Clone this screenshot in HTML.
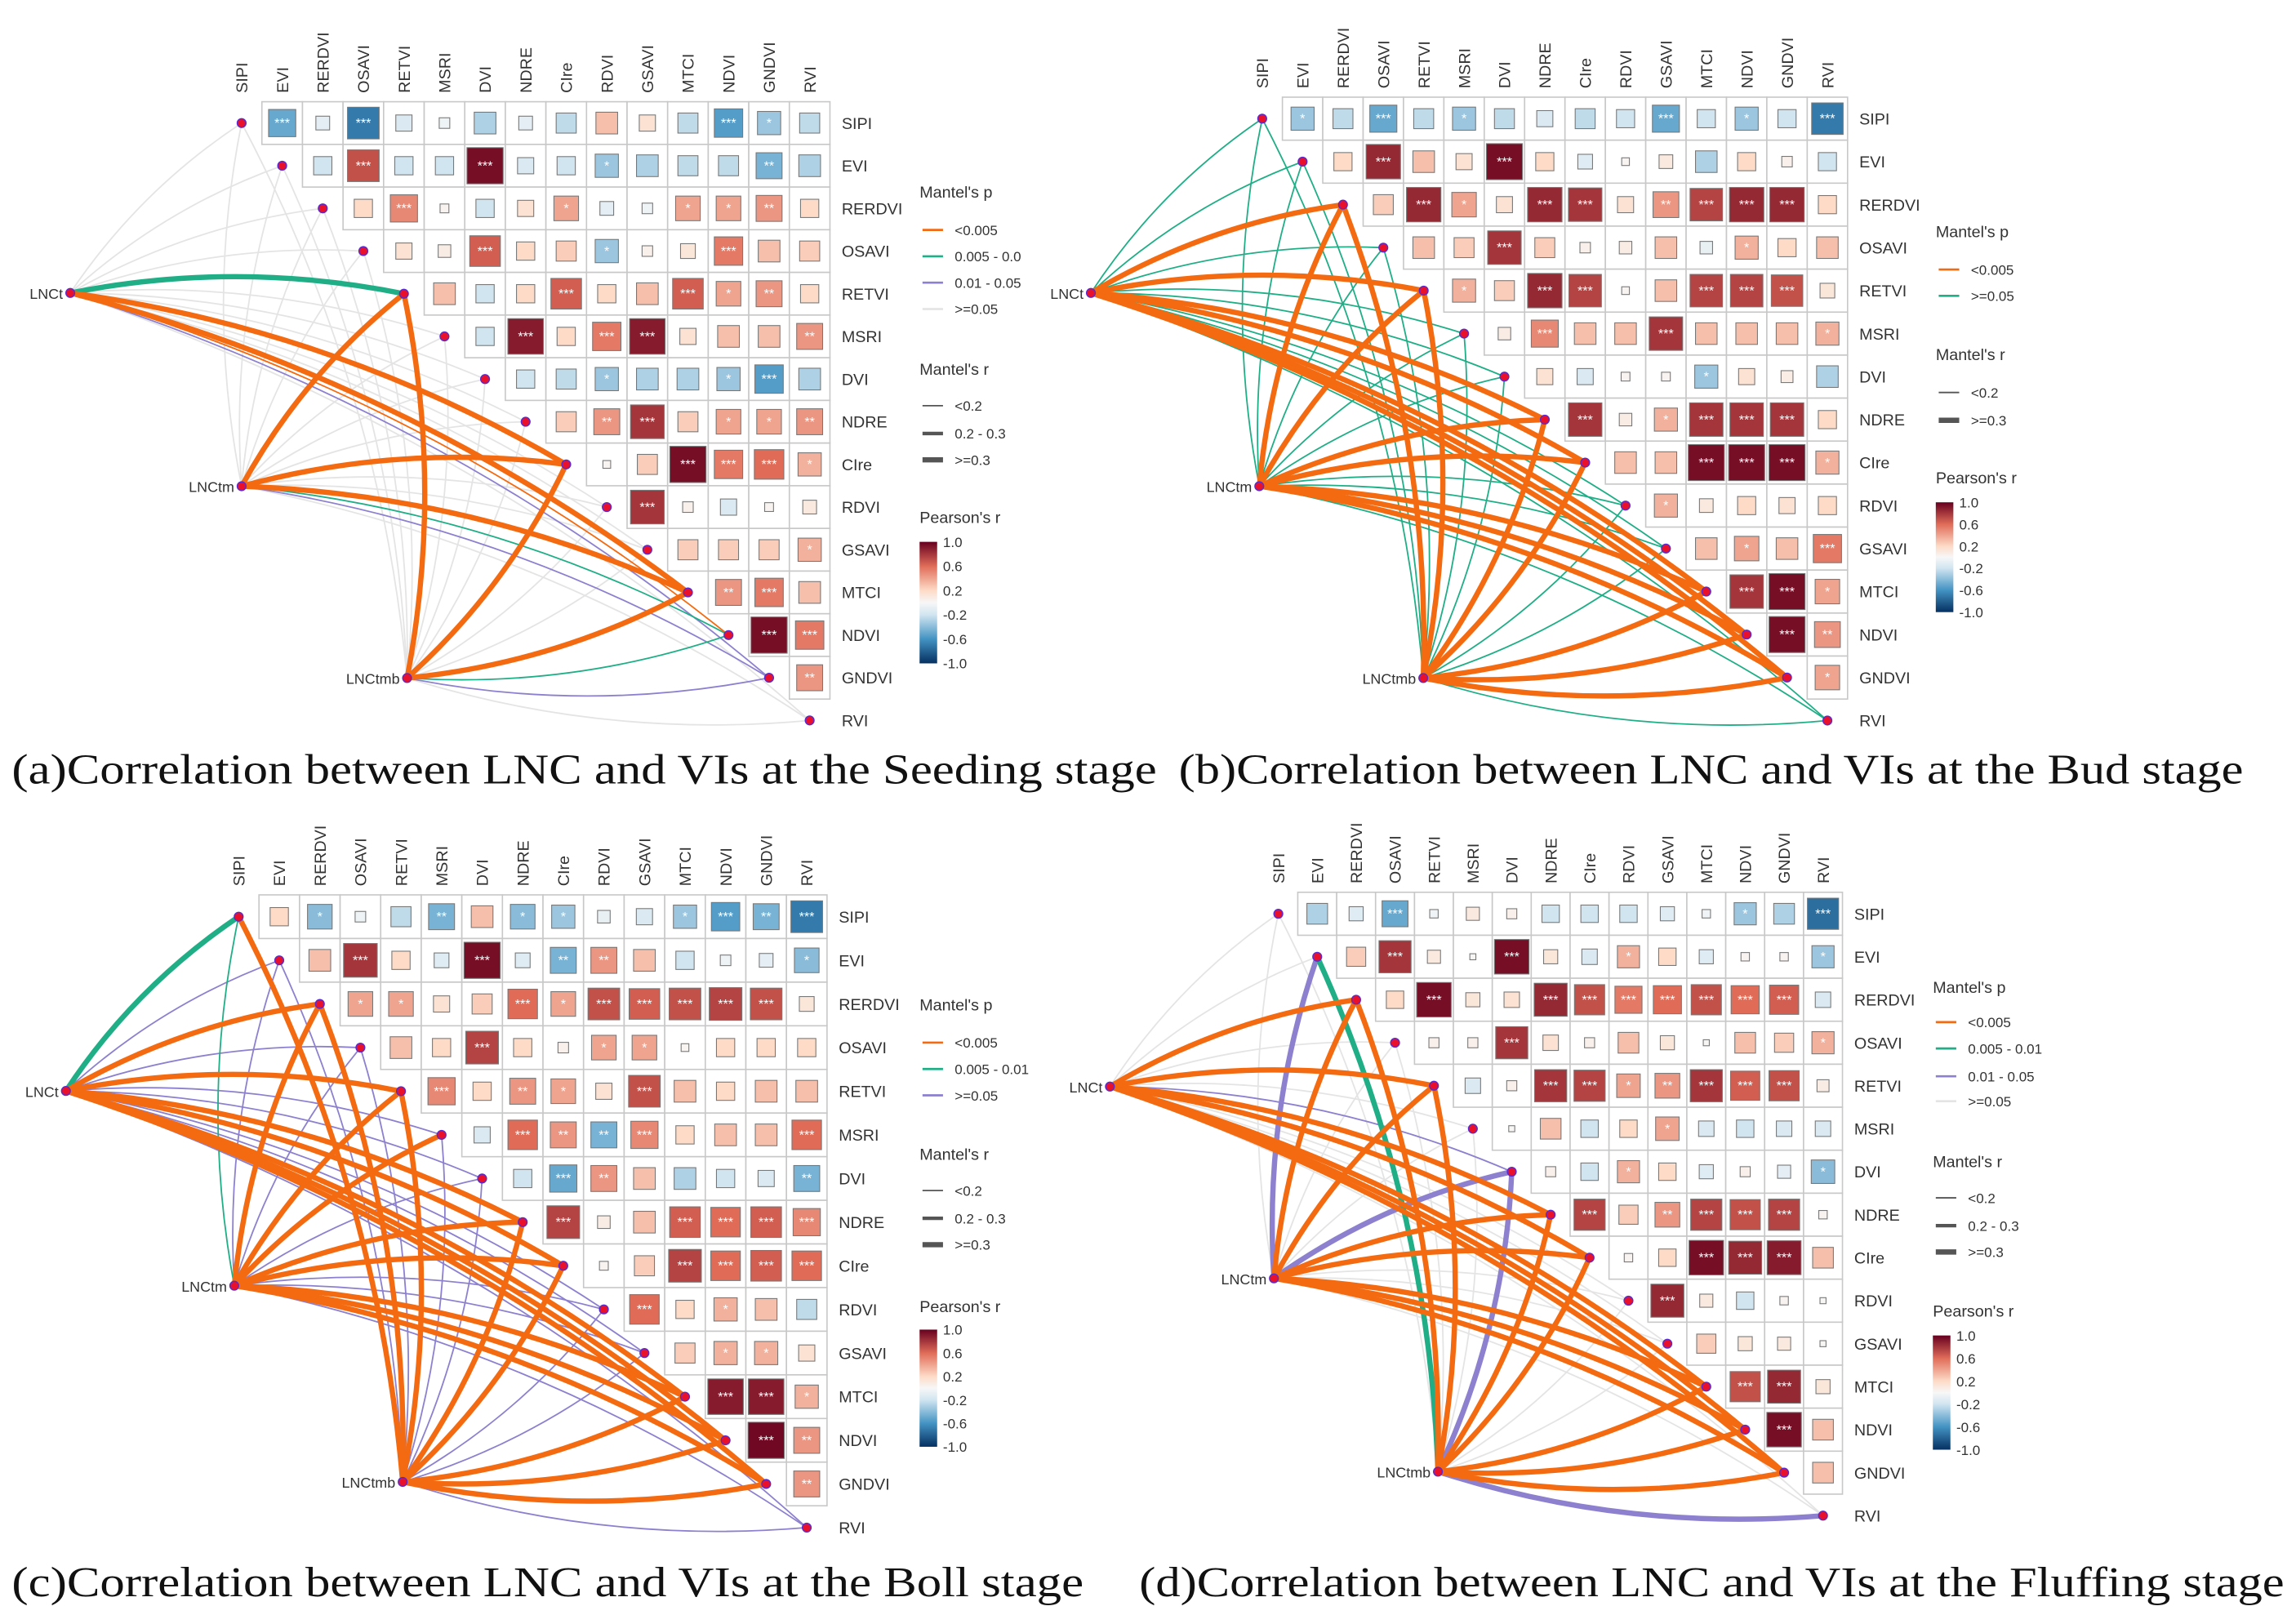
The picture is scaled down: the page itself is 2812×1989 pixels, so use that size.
<!DOCTYPE html>
<html><head><meta charset="utf-8"><style>
html,body{margin:0;padding:0;background:#fff}
svg{display:block}
text{font-family:"Liberation Sans",Arial,sans-serif;fill:#333}
.cap{font-family:"Liberation Serif",serif;fill:#111}
</style></head><body>
<svg id="fig" width="2812" height="1989" viewBox="0 0 1568 1109" xmlns="http://www.w3.org/2000/svg">
<rect width="1568" height="1109" fill="#fff"/>
</svg>
<script>
const vis = ["SIPI","EVI","RERDVI","OSAVI","RETVI","MSRI","DVI","NDRE","CIre","RDVI","GSAVI","MTCI","NDVI","GNDVI","RVI"];
const envNames = ["LNCt","LNCtm","LNCtmb"];
const rA = [
[-0.5,-0.1,-0.7,-0.15,-0.05,-0.3,-0.1,-0.25,0.3,0.15,-0.25,-0.55,-0.35,-0.25],
[-0.2,0.7,-0.2,-0.2,0.95,-0.15,-0.2,-0.35,-0.3,-0.25,-0.25,-0.45,-0.3],
[0.2,0.5,0.03,-0.2,0.15,0.4,-0.1,-0.05,0.4,0.4,0.45,0.2],
[0.15,0.08,0.65,0.2,0.25,-0.35,0.05,0.12,0.55,0.3,0.25],
[0.3,-0.2,0.2,0.65,0.2,0.3,0.65,0.4,0.45,0.2],
[-0.2,0.9,0.2,0.55,0.9,0.15,0.3,0.3,0.45],
[-0.2,-0.25,-0.35,-0.3,-0.3,-0.35,-0.55,-0.3],
[0.25,0.45,0.8,0.25,0.4,0.4,0.45],
[0.02,0.25,0.95,0.55,0.6,0.35],
[0.8,0.05,-0.15,0.03,0.1],
[0.25,0.25,0.25,0.35],
[0.45,0.55,0.3],
[0.95,0.55],
[0.45]];
const rB = [
[-0.35,-0.25,-0.5,-0.25,-0.35,-0.25,-0.15,-0.25,-0.2,-0.5,-0.2,-0.35,-0.2,-0.7],
[0.2,0.85,0.3,0.15,0.95,0.2,-0.12,0.02,0.1,-0.3,0.2,0.05,-0.2],
[0.25,0.85,0.4,0.15,0.85,0.8,0.15,0.45,0.75,0.85,0.85,0.2],
[0.3,0.25,0.8,0.25,0.05,0.08,0.3,-0.08,0.35,0.2,0.3],
[0.35,0.25,0.85,0.75,0.02,0.3,0.75,0.75,0.7,0.12],
[0.08,0.5,0.3,0.3,0.8,0.3,0.3,0.3,0.35],
[0.15,-0.15,0.03,0.03,-0.35,0.15,0.07,-0.3],
[0.8,0.08,0.35,0.8,0.8,0.8,0.2],
[0.3,0.3,0.95,0.95,0.95,0.35],
[0.35,0.1,0.2,0.15,0.2],
[0.3,0.4,0.3,0.55],
[0.8,0.95,0.4],
[0.95,0.45],
[0.4]];
const rC = [
[0.2,-0.4,-0.05,-0.25,-0.45,0.3,-0.4,-0.35,-0.08,-0.15,-0.35,-0.55,-0.45,-0.7],
[0.3,0.8,0.2,-0.12,0.95,-0.12,-0.45,0.45,0.3,-0.2,-0.05,-0.1,-0.4],
[0.4,0.4,0.15,0.25,0.6,0.4,0.7,0.65,0.7,0.75,0.7,0.12],
[0.3,0.2,0.75,0.2,0.05,0.4,0.4,0.02,0.2,0.2,0.2],
[0.5,0.2,0.45,0.4,0.15,0.7,0.3,0.2,0.3,0.3],
[-0.15,0.6,0.45,-0.45,0.5,0.2,0.3,0.3,0.6],
[-0.2,-0.5,0.45,0.3,-0.3,-0.2,-0.15,-0.45],
[0.75,0.08,0.3,0.65,0.6,0.65,0.5],
[0.03,0.25,0.75,0.6,0.65,0.6],
[0.6,0.2,0.35,0.3,-0.25],
[0.25,0.35,0.35,0.15],
[0.9,0.9,0.35],
[0.97,0.45],
[0.45]];
const rD = [
[-0.3,-0.12,-0.5,-0.03,0.1,0.05,-0.2,-0.2,-0.2,-0.12,-0.03,-0.35,-0.3,-0.75],
[0.25,0.8,0.1,0.01,0.95,0.12,-0.15,0.35,0.2,-0.12,0.03,0.03,-0.35],
[0.2,0.95,0.12,0.15,0.85,0.7,0.55,0.6,0.7,0.6,0.65,-0.15],
[0.05,0.05,0.8,0.15,0.05,0.3,0.12,0.01,0.3,0.25,0.35],
[-0.15,0.05,0.8,0.75,0.4,0.45,0.8,0.65,0.7,0.08],
[0.01,0.3,-0.2,0.2,0.4,-0.15,-0.2,-0.15,-0.15],
[0.05,-0.2,0.35,0.2,-0.12,0.05,-0.1,-0.4],
[0.75,0.25,0.45,0.75,0.7,0.75,0.03],
[0.03,0.2,0.95,0.85,0.9,0.3],
[0.85,0.1,-0.2,0.03,0.01],
[0.25,0.12,0.1,0.01],
[0.7,0.85,0.12],
[0.95,0.3],
[0.3]];
const pA_t=[3,3,3,3,1,3,3,3,0,3,3,0,0,2,3], wA_t=[0,0,0,0,2,0,0,0,2,0,0,2,0,0,0];
const pA_m=[3,3,3,3,0,3,3,3,0,3,3,0,1,2,3], wA_m=[0,0,0,0,2,0,0,0,2,0,0,2,0,0,0];
const pA_b=[3,3,3,3,0,3,3,3,0,3,3,0,1,2,3], wA_b=[0,0,0,0,2,0,0,0,2,0,0,2,0,0,0];
const pB_t=[1,1,0,1,0,1,1,0,0,1,1,0,0,0,1], wB_t=[0,0,2,0,2,0,0,2,2,0,0,2,2,2,0];
const pB_m=[1,1,0,1,0,1,1,0,0,1,1,0,0,0,1], wB_m=[0,0,2,0,2,0,0,2,2,0,0,2,2,2,0];
const pB_b=[1,1,0,1,0,1,1,0,0,1,1,0,0,0,1], wB_b=[0,0,2,0,2,0,0,2,2,0,0,2,2,2,0];
const pC_t=[1,2,0,2,0,2,2,0,0,2,2,0,0,0,2], wC_t=[2,0,2,0,2,0,0,2,2,0,0,2,2,2,0];
const pC_m=[1,2,0,2,0,0,2,0,0,2,2,0,0,0,2], wC_m=[0,0,2,0,2,2,0,2,2,0,0,2,2,2,0];
const pC_b=[0,2,0,2,0,2,2,0,0,2,2,0,0,0,2], wC_b=[2,0,2,0,2,0,0,2,2,0,0,2,2,2,0];
const pD_t=[3,3,0,3,0,3,2,0,0,3,3,0,0,0,3], wD_t=[0,0,2,0,2,0,0,2,2,0,0,2,2,2,0];
const pD_m=[3,2,0,3,0,3,2,0,0,3,3,0,0,0,3], wD_m=[0,2,2,0,2,0,2,2,2,0,0,2,2,2,0];
const pD_b=[3,1,0,3,0,3,2,0,0,3,3,0,0,0,2], wD_b=[0,2,2,0,2,0,2,2,2,0,0,2,2,2,2];

const NS="http://www.w3.org/2000/svg";
const svg=document.getElementById('fig');
function mk(tag,attrs,parent){const e=document.createElementNS(NS,tag);for(const k in attrs)e.setAttribute(k,attrs[k]);(parent||svg).appendChild(e);return e;}
const stops=[[-1,[5,48,97]],[-0.6,[67,147,195]],[-0.2,[209,229,240]],[0,[247,247,247]],[0.2,[253,219,199]],[0.6,[224,108,88]],[1,[103,0,31]]];
function col(r){for(let i=0;i<stops.length-1;i++){const a=stops[i],b=stops[i+1];if(r<=b[0]){const t=(r-a[0])/(b[0]-a[0]);const c=a[1].map((v,k)=>Math.round(v+(b[1][k]-v)*t));return `rgb(${c})`;}}return 'rgb(103,0,31)';}
function stars(r){const a=Math.abs(r);return a>=0.5?'***':a>=0.42?'**':a>=0.33?'*':'';}
const pCol=['#F36A10','#1FAE86','#8C80CF','#E4E4E4'];
const wCls=[1,2.4,3.6];

const panels=[
 {id:'a',x0:165,y0:84,dx:27.71,dy:29.14,env:[[48,200],[165,332],[278,463]],r:rA,p:[pA_t,pA_m,pA_b],w:[wA_t,wA_m,wA_b],
  leg:{x:628,pT:135,pItems:[157,175,193,211],pLab:['<0.005','0.005 - 0.0','0.01 - 0.05','>=0.05'],pCls:[0,1,2,3],rT:256,rItems:[277,296,314],rLab:['<0.2','0.2 - 0.3','>=0.3'],prT:357,bar:[370,453]},
  cap:'(a)Correlation between LNC and VIs at the Seeding stage',cx:8,cy:535,cw:782},
 {id:'b',x0:862,y0:81,dx:27.57,dy:29.36,env:[[745,200],[860,332],[972,463]],r:rB,p:[pB_t,pB_m,pB_b],w:[wB_t,wB_m,wB_b],
  leg:{x:1322,pT:162,pItems:[184,202],pLab:['<0.005','>=0.05'],pCls:[0,1],rT:246,rItems:[268,287],rLab:['<0.2','>=0.3'],prT:330,bar:[343,418]},
  cap:'(b)Correlation between LNC and VIs at the Bud stage',cx:805,cy:535,cw:727},
 {id:'c',x0:163,y0:626,dx:27.71,dy:29.8,env:[[45,745],[160,878],[275,1012]],r:rC,p:[pC_t,pC_m,pC_b],w:[wC_t,wC_m,wC_b],
  leg:{x:628,pT:690,pItems:[712,730,748],pLab:['<0.005','0.005 - 0.01','>=0.05'],pCls:[0,1,2],rT:792,rItems:[813,832,850],rLab:['<0.2','0.2 - 0.3','>=0.3'],prT:896,bar:[908,988]},
  cap:'(c)Correlation between LNC and VIs at the Boll stage',cx:8,cy:1090,cw:732},
 {id:'d',x0:873,y0:624,dx:26.57,dy:29.36,env:[[758,742],[870,873],[982,1005]],r:rD,p:[pD_t,pD_m,pD_b],w:[wD_t,wD_m,wD_b],
  leg:{x:1320,pT:678,pItems:[698,716,735,752],pLab:['<0.005','0.005 - 0.01','0.01 - 0.05','>=0.05'],pCls:[0,1,2,3],rT:797,rItems:[818,837,855],rLab:['<0.2','0.2 - 0.3','>=0.3'],prT:899,bar:[912,990]},
  cap:'(d)Correlation between LNC and VIs at the Fluffing stage',cx:778,cy:1090,cw:782}
];

panels.forEach(P=>{
  const g=mk('g',{});
  
  
  const X=j=>P.x0+j*P.dx, Y=i=>P.y0+i*P.dy;
  const mg=mk('g',{},g);
  
  
  P.r.forEach((row,i)=>{row.forEach((v,k)=>{const j=i+1+k;
    const cx=X(j),cy=Y(i);
    const cell=mk('rect',{x:cx-P.dx/2,y:cy-P.dy/2,width:P.dx,height:P.dy,fill:'#fff',stroke:'#c8c8c8','stroke-width':0.9},mg);
    
    
    const s=(P.dx-3)*Math.min(1,0.08+0.95*Math.sqrt(Math.abs(v)));
    const sq=mk('rect',{x:cx-s/2,y:cy-s/2,width:s,height:s,fill:col(v),stroke:'#777','stroke-width':0.6},mg);
    
    
    const st=stars(v);
    if(st){const t=mk('text',{x:cx,y:cy+3,'text-anchor':'middle','font-size':9,style:'fill:#fff'},mg);t.textContent=st;
      
      }
  });});
  vis.forEach((n,j)=>{const x=X(j),y=P.y0-P.dy/2-6;
    const t=mk('text',{x:x+4,y:y,'font-size':11,transform:`rotate(-90 ${x+4} ${y})`},g);t.textContent=n;
    
    
    const t2=mk('text',{x:X(14)+P.dx/2+8,y:Y(j)+4,'font-size':11},g);t2.textContent=n;
    
    
  });
  const eg=mk('g',{fill:'none','stroke-linecap':'round'},g);
  
  
  const order=[];
  for(let e=0;e<3;e++)for(let j=0;j<15;j++)order.push([e,j]);
  order.sort((a,b)=>(P.p[b[0]][b[1]]-P.p[a[0]][a[1]])||(P.w[a[0]][a[1]]-P.w[b[0]][b[1]]));
  order.forEach(([e,j])=>{
    const [x1,y1]=P.env[e],x2=X(j),y2=Y(j);
    const mx=(x1+x2)/2,my=(y1+y2)/2,dx=x2-x1,dy=y2-y1;
    const sgn=e==2?-1:1, c=0.1*sgn;
    const qx=mx+dy*c,qy=my-dx*c;
    const path=mk('path',{d:`M${x1},${y1} Q${qx},${qy} ${x2},${y2}`,stroke:pCol[P.p[e][j]],'stroke-width':wCls[P.w[e][j]]},eg);
    
    
  });
  vis.forEach((n,j)=>{const c=mk('circle',{cx:X(j),cy:Y(j),r:3,fill:'#e8102a',stroke:'#5a2ad0','stroke-width':0.8},g);
    
    });
  P.env.forEach(([x,y],e)=>{const c=mk('circle',{cx:x,cy:y,r:3,fill:'#e8102a',stroke:'#5a2ad0','stroke-width':0.8},g);
    
    
    const t=mk('text',{x:x-5,y:y+4,'text-anchor':'end','font-size':10},g);t.textContent=envNames[e];
    
    });
  const L=P.leg, lg=mk('g',{},g);
  
  
  let t=mk('text',{x:L.x,y:L.pT,'font-size':11},lg);t.textContent="Mantel's p";
  L.pItems.forEach((y,k)=>{mk('line',{x1:L.x+2,x2:L.x+16,y1:y,y2:y,stroke:pCol[L.pCls[k]],'stroke-width':1.5},lg);
    const tt=mk('text',{x:L.x+24,y:y+3.5,'font-size':9.5},lg);tt.textContent=L.pLab[k];
    
    });
  t=mk('text',{x:L.x,y:L.rT,'font-size':11},lg);t.textContent="Mantel's r";
  const ws=L.rItems.length==2?[1,3.6]:[1,2.4,3.6];
  L.rItems.forEach((y,k)=>{mk('line',{x1:L.x+2,x2:L.x+16,y1:y,y2:y,stroke:'#555','stroke-width':ws[k]},lg);
    const tt=mk('text',{x:L.x+24,y:y+3.5,'font-size':9.5},lg);tt.textContent=L.rLab[k];
    
    });
  t=mk('text',{x:L.x,y:L.prT,'font-size':11},lg);t.textContent="Pearson's r";
  const gid='grad'+P.id;
  const defs=mk('defs',{},lg);const gr=mk('linearGradient',{id:gid,x1:0,y1:0,x2:0,y2:1},defs);
  [1,0.6,0.2,0,-0.2,-0.6,-1].forEach(v=>mk('stop',{offset:((1-v)/2*100)+'%','stop-color':col(v)},gr));
  mk('rect',{x:L.x,y:L.bar[0],width:12,height:L.bar[1]-L.bar[0],fill:`url(#${gid})`},lg);
  ['1.0','0.6','0.2','-0.2','-0.6','-1.0'].forEach((s,k)=>{const y=L.bar[0]+(L.bar[1]-L.bar[0])*k/5;
    const tt=mk('text',{x:L.x+16,y:y+3.5,'font-size':9.5},lg);tt.textContent=s;});
  const cp=mk('text',{x:P.cx,y:P.cy,'font-size':29,class:'cap',textLength:P.cw,lengthAdjust:'spacingAndGlyphs'},g);cp.textContent=P.cap;
  
  
});
</script>
</body></html>
